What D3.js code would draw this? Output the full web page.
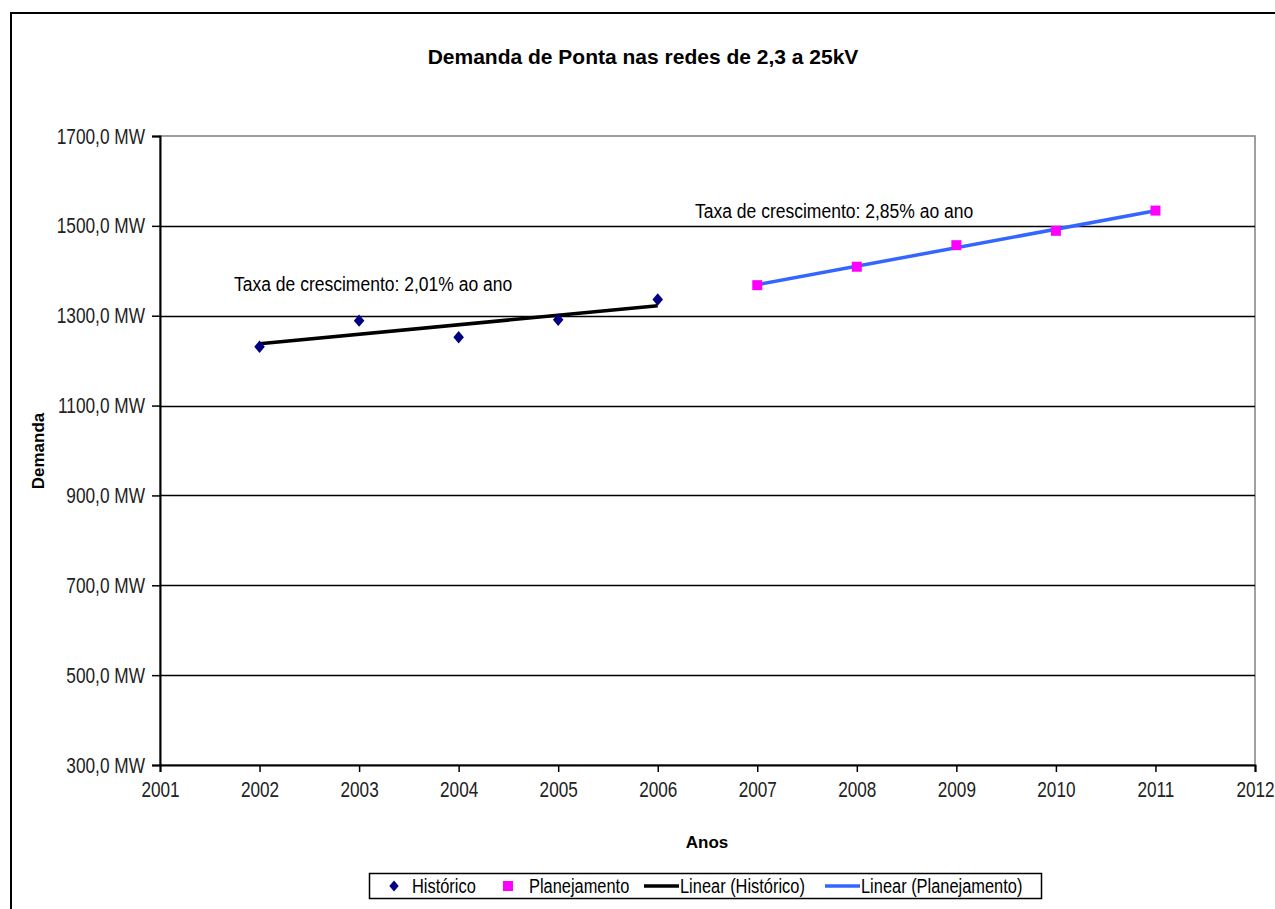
<!DOCTYPE html>
<html>
<head>
<meta charset="utf-8">
<script src="https://cdn.jsdelivr.net/npm/d3@7"></script>
<style>
  html, body { margin: 0; padding: 0; background: #fff; }
  svg { display: block; }
  .narrow { font-family: "Liberation Sans", Arial, sans-serif; }
  .bold { font-family: "Liberation Sans", Arial, sans-serif; font-weight: bold; }
</style>
</head>
<body>
<svg id="chart" width="1275" height="909"></svg>
<script>
// Peak demand on the 2.3–25 kV networks: history and plan
const historicoYears = [2002, 2003, 2004, 2005, 2006];
const historicoValues = [1231, 1289, 1252, 1291, 1336];
const planejamentoYears = [2007, 2008, 2009, 2010, 2011];
const planejamentoValues = [1368, 1409, 1457, 1489, 1534];
const xTicks = [2001, 2002, 2003, 2004, 2005, 2006, 2007, 2008, 2009, 2010, 2011, 2012];
const yTicks = [300, 500, 700, 900, 1100, 1300, 1500, 1700];
const titleText = "Demanda de Ponta nas redes de 2,3 a 25kV";
const rateHistorico = "Taxa de crescimento: 2,01% ao ano";
const ratePlanejamento = "Taxa de crescimento: 2,85% ao ano";
const legendLabels = ["Histórico", "Planejamento", "Linear (Histórico)", "Linear (Planejamento)"];

const svg = d3.select("#chart");
const plot = { left: 160, right: 1255, top: 136, bottom: 765 };

const x = d3.scaleLinear().domain([2001, 2012]).range([plot.left, plot.right]);
const y = d3.scaleLinear().domain([300, 1700]).range([plot.bottom, plot.top]);

const navy = "#000080", magenta = "#ff00ff", blue = "#3366ff";

// squeeze text horizontally to a narrow face
function condense(sel, factor) {
  sel.each(function () {
    const w = this.getComputedTextLength();
    d3.select(this).attr("textLength", w * factor).attr("lengthAdjust", "spacingAndGlyphs");
  });
}

// wide diamond marker
const wideDiamond = {
  draw(ctx, size) {
    const h = Math.sqrt(size) * 0.62, w = h * 0.85;
    ctx.moveTo(0, -h); ctx.lineTo(w, 0); ctx.lineTo(0, h); ctx.lineTo(-w, 0); ctx.closePath();
  }
};

// outer chart frame (open on the right and bottom)
svg.append("rect")
  .attr("x", 11).attr("y", 13).attr("width", 1300).attr("height", 940)
  .attr("fill", "none").attr("stroke", "#000").attr("stroke-width", 2);

// title
svg.append("text").attr("class", "bold")
  .attr("x", 643).attr("y", 64).attr("text-anchor", "middle")
  .attr("font-size", 21).text(titleText);

// plot area border (grey)
svg.append("rect")
  .attr("x", plot.left).attr("y", plot.top)
  .attr("width", plot.right - plot.left).attr("height", plot.bottom - plot.top)
  .attr("fill", "none").attr("stroke", "#808080").attr("stroke-width", 1.5);

// horizontal gridlines
svg.append("g").selectAll("line")
  .data(yTicks.filter(v => v > 300 && v < 1700))
  .join("line")
  .attr("x1", plot.left).attr("x2", plot.right)
  .attr("y1", d => Math.round(y(d)) + 0.5).attr("y2", d => Math.round(y(d)) + 0.5)
  .attr("stroke", "#000").attr("stroke-width", 1.3);

// y axis
const yAxis = d3.axisLeft(y).tickValues(yTicks).tickSize(8).tickPadding(7)
  .tickFormat(d => d3.format(".1f")(d).replace(".", ",") + " MW");
const gy = svg.append("g").attr("transform", `translate(${plot.left},0)`).call(yAxis);
gy.select(".domain").attr("stroke", "#000").attr("stroke-width", 2);
gy.selectAll(".tick line").attr("stroke", "#000").attr("stroke-width", 1.5);
gy.selectAll(".tick text").attr("class", "narrow").attr("font-size", 22).attr("fill", "#222")
  .call(condense, 0.785);

// x axis
const xAxis = d3.axisBottom(x).tickValues(xTicks).tickSize(7).tickPadding(9)
  .tickFormat(d3.format("d"));
const gx = svg.append("g").attr("transform", `translate(0,${plot.bottom})`).call(xAxis);
gx.select(".domain").attr("stroke", "#000").attr("stroke-width", 2);
gx.selectAll(".tick line").attr("stroke", "#000").attr("stroke-width", 1.5);
gx.selectAll(".tick text").attr("class", "narrow").attr("font-size", 22).attr("fill", "#222")
  .call(condense, 0.78);

// axis titles
svg.append("text").attr("class", "bold")
  .attr("x", 707).attr("y", 848).attr("text-anchor", "middle")
  .attr("font-size", 17).text("Anos");
svg.append("text").attr("class", "bold")
  .attr("transform", "translate(44,451) rotate(-90)").attr("text-anchor", "middle")
  .attr("font-size", 17).text("Demanda");

// least-squares trendline over a series
function linearFit(xs, ys) {
  const mx = d3.mean(xs), my = d3.mean(ys);
  const slope = d3.sum(xs, (v, i) => (v - mx) * (ys[i] - my)) / d3.sum(xs, v => (v - mx) ** 2);
  const intercept = my - slope * mx;
  return [xs[0], xs[xs.length - 1]].map(v => [v, intercept + slope * v]);
}
const line = d3.line().x(d => x(d[0])).y(d => y(d[1]));

svg.append("path").datum(linearFit(historicoYears, historicoValues))
  .attr("d", line).attr("stroke", "#000").attr("stroke-width", 3.5).attr("fill", "none");
svg.append("path").datum(linearFit(planejamentoYears, planejamentoValues))
  .attr("d", line).attr("stroke", blue).attr("stroke-width", 3.5).attr("fill", "none");

// markers
const diamond = d3.symbol().type(wideDiamond).size(100);
svg.append("g").selectAll("path")
  .data(historicoYears.map((yr, i) => [yr, historicoValues[i]]))
  .join("path")
  .attr("d", diamond)
  .attr("transform", d => `translate(${x(d[0])},${y(d[1])})`)
  .attr("fill", navy);

svg.append("g").selectAll("rect")
  .data(planejamentoYears.map((yr, i) => [yr, planejamentoValues[i]]))
  .join("rect")
  .attr("x", d => x(d[0]) - 5).attr("y", d => y(d[1]) - 5)
  .attr("width", 10).attr("height", 10)
  .attr("fill", magenta);

// growth-rate annotations
svg.append("text").attr("class", "narrow")
  .attr("x", 234).attr("y", 291).attr("font-size", 20).attr("fill", "#000")
  .text(rateHistorico).call(condense, 0.875);
svg.append("text").attr("class", "narrow")
  .attr("x", 695).attr("y", 218).attr("font-size", 20).attr("fill", "#000")
  .text(ratePlanejamento).call(condense, 0.875);

// legend
const lg = svg.append("g");
lg.append("rect").attr("x", 369.5).attr("y", 873.5).attr("width", 672).attr("height", 25)
  .attr("fill", "#fff").attr("stroke", "#000").attr("stroke-width", 1.5);
const ly = 886;
lg.append("path").attr("d", d3.symbol().type(wideDiamond).size(80))
  .attr("transform", `translate(394,${ly})`).attr("fill", navy);
lg.append("rect").attr("x", 503).attr("y", ly - 5).attr("width", 10).attr("height", 10).attr("fill", magenta);
lg.append("line").attr("x1", 644).attr("x2", 679).attr("y1", ly).attr("y2", ly)
  .attr("stroke", "#000").attr("stroke-width", 3.5);
lg.append("line").attr("x1", 825).attr("x2", 860).attr("y1", ly).attr("y2", ly)
  .attr("stroke", blue).attr("stroke-width", 3.5);
const legendX = [412, 529, 680, 861];
lg.selectAll("text.lbl").data(legendLabels).join("text")
  .attr("class", "narrow lbl")
  .attr("x", (d, i) => legendX[i]).attr("y", ly + 7)
  .attr("font-size", 20).attr("fill", "#000")
  .text(d => d)
  .call(condense, 0.82);
</script>
</body>
</html>
